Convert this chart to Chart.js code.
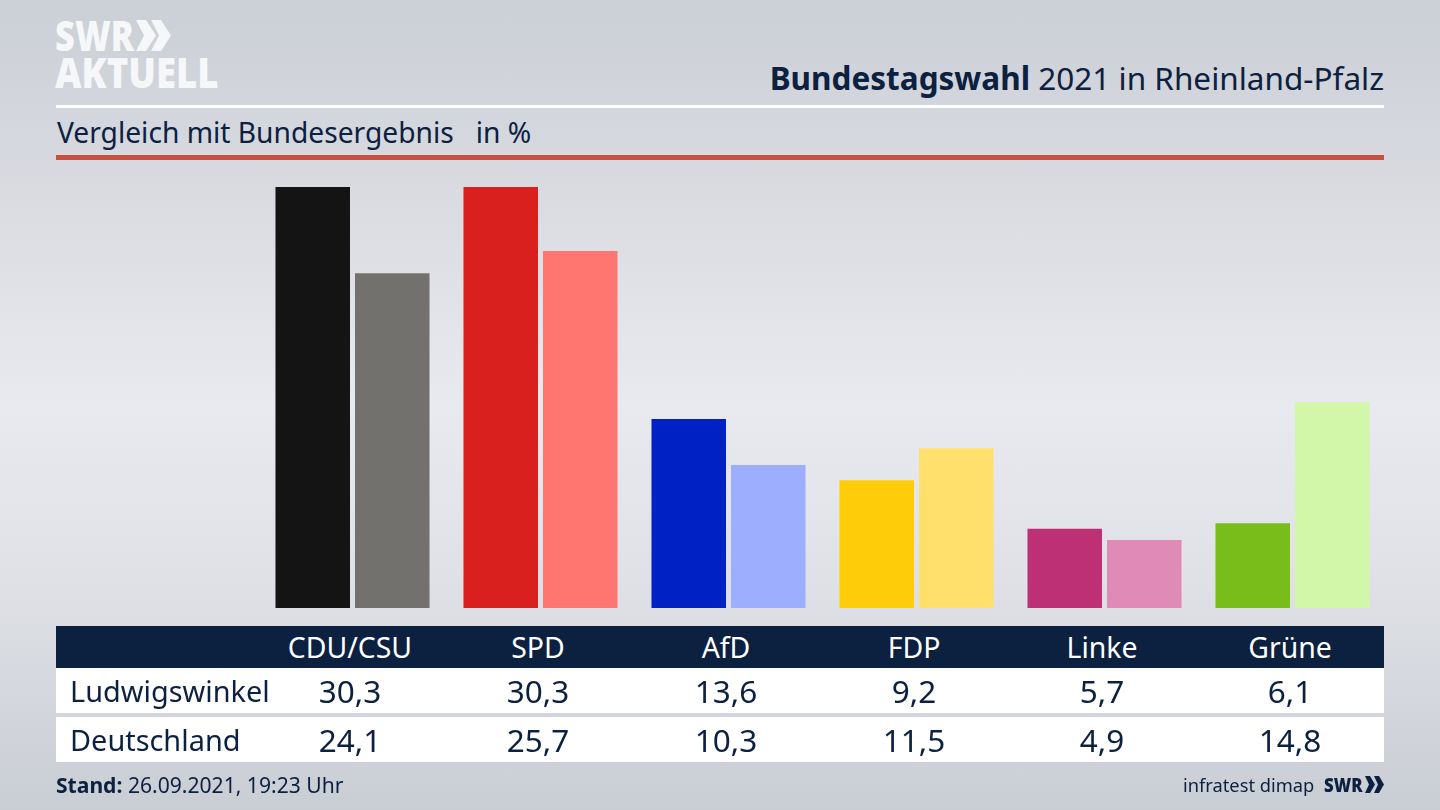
<!DOCTYPE html>
<html lang="de">
<head>
<meta charset="utf-8">
<title>Bundestagswahl 2021 in Rheinland-Pfalz</title>
<script src="https://cdn.jsdelivr.net/npm/chart.js@4"></script>
<style>
html, body { margin: 0; padding: 0; }
body {
  width: 1440px; height: 810px; overflow: hidden; position: relative;
  background: linear-gradient(180deg, #cbcfd6 0%, #d8dae0 22%, #e9eaf0 50%, #dfe1e6 72%, #c9cdd4 100%);
  font-family: "Noto Sans", sans-serif; color: #0c2040;
}
canvas { position: absolute; left: 0; top: 0; }
.abs { position: absolute; white-space: nowrap; }
/* logo */
.logo { color: #f6f7f8; font-weight: 800; transform-origin: left top; font-family: "Open Sans", sans-serif; font-size: 42px; line-height: 48px; }
#title { right: 56px; top: 56px; font-size: 31.500px; line-height: 44px; }
#subtitle { left: 57px; top: 112px; font-size: 28.200px; line-height: 40px; white-space: pre; }
#lineWhite { left: 56px; top: 105px; width: 1328px; height: 3px; background: #fff; }
#lineRed { left: 56px; top: 155px; width: 1328px; height: 5px; background: #c9523f; }
/* tabelle */
.band { left: 56px; width: 1328px; }
.cell { text-align: center; width: 188px; }
#stand { left: 56px; top: 770px; font-size: 21.100px; line-height: 30px; }
#quelle { left: 1183px; top: 770px; font-size: 18.300px; line-height: 30px; }
</style>
</head>
<body>
<div class="abs logo" style="left:55px;top:11px;transform:scaleX(.82)">SWR</div>
<svg class="abs" style="left:136px;top:20px" width="36" height="32"><path d="M0 0h10l10 15.500-10 15.500h-10l8-15.500zM15 0h10l10 15.500-10 15.500h-10l8-15.500z" fill="#f6f7f8"/></svg>
<div class="abs logo" style="left:55px;top:48px;transform:scaleX(.87)">AKTUELL</div>

<div class="abs" id="title"><b>Bundestagswahl</b> 2021 in Rheinland-Pfalz</div>
<div class="abs" id="lineWhite"></div>
<div class="abs" id="subtitle">Vergleich mit Bundesergebnis   in %</div>
<div class="abs" id="lineRed"></div>

<canvas id="barChart" width="1440" height="810"></canvas>

<div id="table"></div>

<div class="abs" id="stand"><b>Stand:</b> 26.09.2021, 19:23 Uhr</div>
<div class="abs" id="quelle">infratest dimap</div>
<div class="abs" style="left:1324px;top:770px;font-size:20px;line-height:30px;font-weight:800;font-family:'Open Sans',sans-serif;transform:scaleX(.84);transform-origin:left top">SWR</div>
<svg class="abs" style="left:1365px;top:776px" width="20" height="17"><path d="M0 0h5l5 8.500-5 8.500h-5l4-8.500zM9 0h5l5 8.500-5 8.500h-5l4-8.500z" fill="#0c2040"/></svg>

<script>
// Parteien und Ergebnisse
var parties = ['CDU/CSU', 'SPD', 'AfD', 'FDP', 'Linke', 'Grüne'];
var ludwigswinkel = [30.3, 30.3, 13.6, 9.2, 5.7, 6.1];
var deutschland = [24.1, 25.7, 10.3, 11.5, 4.9, 14.8];
var colorsLocal = ['#141414', '#d9201e', '#0021c4', '#ffcc0a', '#bd3075', '#79bd1b'];
var colorsFederal = ['#72716e', '#ff7570', '#9dadff', '#ffe06d', '#e08ab8', '#d2f7a8'];

var ctx = document.getElementById('barChart').getContext('2d');
new Chart(ctx, {
    type: 'bar',
    data: {
        labels: parties,
        datasets: [
            { label: 'Ludwigswinkel', data: ludwigswinkel, backgroundColor: colorsLocal },
            { label: 'Deutschland', data: deutschland, backgroundColor: colorsFederal }
        ]
    },
    options: {
        responsive: false,
        animation: false,
        categoryPercentage: 0.846,
        barPercentage: 0.937,
        layout: { padding: { left: 258.500, right: 53.500, top: 187, bottom: 202 } },
        plugins: { legend: { display: false }, tooltip: { enabled: false } },
        scales: {
            x: { display: false },
            y: { display: false, min: 0, max: 30.3 }
        }
    }
});

// Tabelle unter dem Diagramm
function fmt(v) { return v.toFixed(1).replace('.', ','); }

function addBand(top, height, bg) {
    var d = document.createElement('div');
    d.className = 'abs band';
    d.style.top = top + 'px';
    d.style.height = height + 'px';
    d.style.background = bg;
    document.getElementById('table').appendChild(d);
}

function addText(text, left, top, height, size, color, cls) {
    var d = document.createElement('div');
    d.className = 'abs ' + (cls || '');
    d.textContent = text;
    d.style.left = left + 'px';
    d.style.top = top + 'px';
    d.style.lineHeight = height + 'px';
    d.style.fontSize = size + 'px';
    d.style.color = color;
    document.getElementById('table').appendChild(d);
}

addBand(626, 42, '#0c2040');
addBand(668, 45, '#ffffff');
addBand(717, 45, '#ffffff');

parties.forEach(function (p, i) {
    var left = 256 + i * 188;
    addText(p, left, 626, 42, 28.4, '#ffffff', 'cell');
    addText(fmt(ludwigswinkel[i]), left, 668, 45, 31.5, '#0c2040', 'cell');
    addText(fmt(deutschland[i]), left, 717, 45, 31.5, '#0c2040', 'cell');
});
addText('Ludwigswinkel', 70, 668, 45, 28.9, '#0c2040');
addText('Deutschland', 70, 717, 45, 28.9, '#0c2040');
</script>
</body>
</html>
